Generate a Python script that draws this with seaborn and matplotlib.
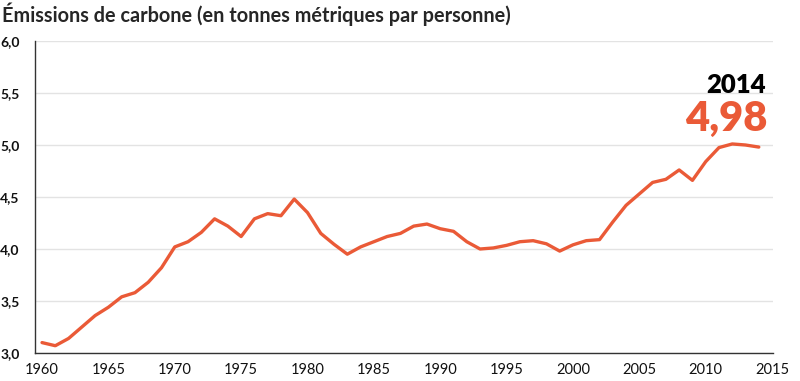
import numpy as np
import pandas as pd
import matplotlib
matplotlib.use('Agg')
import matplotlib.pyplot as plt
import seaborn as sns

# Données
annees = list(range(1960, 2015))
emissions = [3.10, 3.07, 3.14, 3.25, 3.36, 3.44, 3.54, 3.58, 3.68, 3.82,
             4.02, 4.07, 4.16, 4.29, 4.22, 4.12, 4.29, 4.34, 4.32, 4.48,
             4.35, 4.15, 4.045, 3.95, 4.02, 4.07, 4.12, 4.15, 4.22, 4.24,
             4.195, 4.17, 4.07, 4.00, 4.01, 4.035, 4.07, 4.08, 4.05, 3.98,
             4.04, 4.08, 4.09, 4.26, 4.42, 4.53, 4.64, 4.67, 4.76, 4.66,
             4.84, 4.975, 5.01, 5.00, 4.98]
yticks = [3.0, 3.5, 4.0, 4.5, 5.0, 5.5, 6.0]
xticks = list(range(1960, 2016, 5))
titre = "Émissions de carbone (en tonnes métriques par personne)"

df = pd.DataFrame({'annee': annees, 'emissions': emissions})

orange = '#ea5a37'

sns.set_style('white')
plt.rcParams['font.family'] = ['Lato', 'DejaVu Sans']

fig = plt.figure(figsize=(8, 3.81), dpi=100)
ax = fig.add_axes([35 / 800, 1 - 353 / 381, (773 - 35) / 800, (353 - 41) / 381])

sns.lineplot(data=df, x='annee', y='emissions', color=orange, linewidth=2.4, ax=ax)

ax.set_xlim(1959.47, 2015.07)
ax.set_ylim(3.0, 6.0)
ax.set_yticks(yticks)
ax.set_yticklabels([f"{v:.1f}".replace('.', ',') for v in yticks], fontweight='bold')
ax.set_xticks(xticks)
ax.set_xticklabels([str(x) for x in xticks])
ax.tick_params(axis='y', length=0, pad=11, labelsize=10, colors='#111111')
ax.tick_params(axis='x', length=0, pad=7, labelsize=10.5, colors='#111111')
ax.grid(axis='y', color='#e3e3e3', linewidth=1)
ax.set_axisbelow(True)
ax.set_xlabel('')
ax.set_ylabel('')
for s in ['top', 'right']:
    ax.spines[s].set_visible(False)
for s in ['left', 'bottom']:
    ax.spines[s].set_color('#333333')
    ax.spines[s].set_linewidth(1)

fig.text(2 / 800, 1 - 14 / 381, titre, fontsize=14.3, fontweight='bold', va='center', ha='left')

derniere_annee = annees[-1]
derniere_valeur = emissions[-1]
ax.annotate(str(derniere_annee), xy=(derniere_annee, derniere_valeur), xytext=(5, 45),
            textcoords='offset points', ha='right', fontsize=18.5, fontweight='heavy', color='black',
            va='center')
ax.annotate(f"{derniere_valeur:.2f}".replace('.', ','), xy=(derniere_annee, derniere_valeur),
            xytext=(6, 20), textcoords='offset points', ha='right', fontsize=30,
            fontweight='heavy', color=orange, va='center')

fig.savefig('out.png', dpi=100)
